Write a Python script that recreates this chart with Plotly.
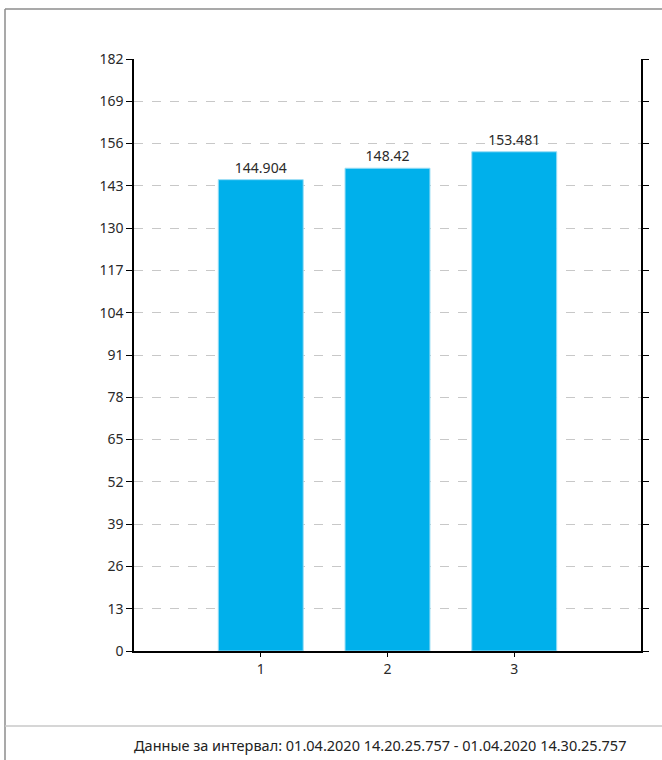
import plotly.graph_objects as go

categories = [1, 2, 3]
values = [144.904, 148.42, 153.481]
value_labels = ["144.904", "148.42", "153.481"]
y_ticks = list(range(0, 183, 13))
footer_text = "Данные за интервал: 01.04.2020 14.20.25.757 - 01.04.2020 14.30.25.757"

W, H = 662, 760
L, R, T, B = 134, 21, 59, 109
pw, ph = W - L - R, H - T - B

def px(x):
    return (x - L) / pw

def py(y):
    return (H - B - y) / ph

FONT = "Noto Sans"

fig = go.Figure(go.Bar(
    x=categories, y=values, width=0.67,
    marker=dict(color="#00B0EB", line=dict(color="#9ADDF5", width=1)),
    text=value_labels, textposition="outside", cliponaxis=False,
    textfont=dict(family=FONT, size=14, color="#2A2A2A"),
))

fig.update_layout(
    width=W, height=H,
    margin=dict(l=L, r=R, t=T, b=B),
    paper_bgcolor="white", plot_bgcolor="white",
    showlegend=False,
    font=dict(family=FONT, size=14, color="#2A2A2A"),
    xaxis=dict(range=[0, 4], tickvals=categories, ticktext=[str(c) for c in categories],
               showgrid=False, zeroline=False, showline=True, linecolor="black", linewidth=1.5,
               ticks="outside", ticklen=4, tickcolor="black", tickfont=dict(size=14)),
    yaxis=dict(range=[0, 182], tickvals=y_ticks, showgrid=True, gridcolor="#C8C8C8",
               griddash="dash", gridwidth=1, zeroline=False, showline=True,
               linecolor="black", linewidth=1.5, mirror="allticks",
               ticks="outside", ticklen=6, tickcolor="black", tickfont=dict(size=14)),
    shapes=[
        dict(type="line", xref="paper", yref="paper", x0=px(5), x1=px(700), y0=py(9), y1=py(9),
             line=dict(color="#8C8C8C", width=1.5)),
        dict(type="line", xref="paper", yref="paper", x0=px(5), x1=px(5), y0=py(9), y1=py(770),
             line=dict(color="#8C8C8C", width=1.5)),
        dict(type="line", xref="paper", yref="paper", x0=px(5), x1=px(700), y0=py(726), y1=py(726),
             line=dict(color="#C8C8C8", width=1.5)),
    ],
    annotations=[
        dict(text=footer_text, xref="paper", yref="paper", x=px(380), y=py(745),
             xanchor="center", yanchor="middle", showarrow=False,
             font=dict(family=FONT, size=14.5, color="#222222")),
    ],
)

fig.write_html("out.html", config={"displayModeBar": False},
               post_script="document.body.style.margin='0';document.body.style.overflow='hidden';")
